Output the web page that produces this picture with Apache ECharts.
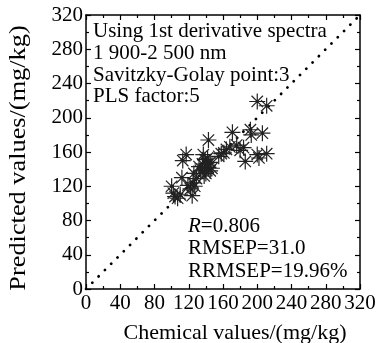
<!DOCTYPE html>
<html><head><meta charset="utf-8">
<script src="https://cdn.jsdelivr.net/npm/echarts@6/dist/echarts.min.js"></script>
<style>html,body{margin:0;padding:0;background:#fff}#c{width:390px;height:343px}</style>
</head><body><div id="c"></div>
<script>
const chemical  = [100,102,104,107,110,112,113,117,119,122,124,125,127,126,129,132,134,136,137,139,139,140,141,142,143,143,145,145,147,138,155,158,161,164,168,171,176,180,184,186,192,193,200,202,206,200,211,211];
const predicted = [120,112,108,106,110,130,150,157,121,117,109,124,120,135,129,143,138,146,157,151,140,135,146,153,174,142,138,148,141,132,155,158,159,163,166,183,168,162,165,149,186,180,157,153,182,219,214,158];
const refLine = [[0,0],[320,320]];
const axisMin = 0, axisMax = 320, axisStep = 40;
const xTitle = 'Chemical values/(mg/kg)';
const yTitle = 'Predicted values/(mg/kg)';
const infoLines = ['Using 1st derivative spectra','1 900-2 500 nm','Savitzky-Golay point:3','PLS factor:5'];
const statLines = ['{i|R}=0.806','RMSEP=31.0','RRMSEP=19.96%'];

const FONT = '"Liberation Serif","Times New Roman",serif';
const chart = echarts.init(document.getElementById('c'), null, {renderer:'canvas'});
const pts = chemical.map((x,i)=>[x, predicted[i]]);
const star = 'path://M0 8L16 8M8 0L8 16M2.3 2.3L13.7 13.7M13.7 2.3L2.3 13.7M7 7L9 7L9 9L7 9Z';

function axisBase(show){
  return {
    type:'value', min:axisMin, max:axisMax, interval:axisStep,
    axisLine:{show:true, onZero:false, lineStyle:{color:'#000', width:1.5}},
    axisTick:{show:true, inside:true, length:5, lineStyle:{color:'#000', width:1.2}},
    minorTick:{show:true, splitNumber:2, length:3, lineStyle:{color:'#000', width:1.2}},
    splitLine:{show:false},
    axisLabel:{show:show, color:'#000', fontFamily:FONT, fontSize:21},
  };
}
const xBottom = Object.assign(axisBase(true), {position:'bottom'});
xBottom.axisLabel.margin = 4;
const xTop = Object.assign(axisBase(false), {position:'top'});
const yLeft = Object.assign(axisBase(true), {position:'left'});
yLeft.axisLabel.margin = 3;
const yRight = Object.assign(axisBase(false), {position:'right'});

chart.setOption({
  animation:false,
  grid:{left:86, right:30, top:15, bottom:54, containLabel:false},
  xAxis:[xBottom, xTop],
  yAxis:[yLeft, yRight],
  series:[
    {type:'line', data:refLine, symbol:'none', silent:true, z:1,
     lineStyle:{color:'#000', width:2.8, type:[0.1,8.8], cap:'round'}},
    {type:'scatter', data:pts, symbol:star, symbolSize:16, z:2,
     itemStyle:{color:'#1a1a1a', borderColor:'#222', borderWidth:1.2, opacity:1}}
  ],
  graphic:[
    {type:'text', left:93, top:21, style:{text:infoLines.join('\n'), font:'21px '+FONT, fill:'#000', lineHeight:21.7}},
    {type:'text', left:188, top:215, style:{text:statLines.join('\n'), fill:'#000', font:'21px '+FONT, lineHeight:22.5,
      rich:{i:{fontStyle:'italic', fontFamily:FONT, fontSize:21, fill:'#000', lineHeight:22.5}}}},
    {type:'text', x:235, y:333, style:{text:xTitle, font:'normal 22px '+FONT, fill:'#000', align:'center', verticalAlign:'middle'}},
    {type:'text', x:19, y:158, rotation:Math.PI/2, scaleX:1.17,
     style:{text:yTitle, font:'normal 22.5px '+FONT, fill:'#000', align:'center', verticalAlign:'middle'}}
  ]
});
</script></body></html>
